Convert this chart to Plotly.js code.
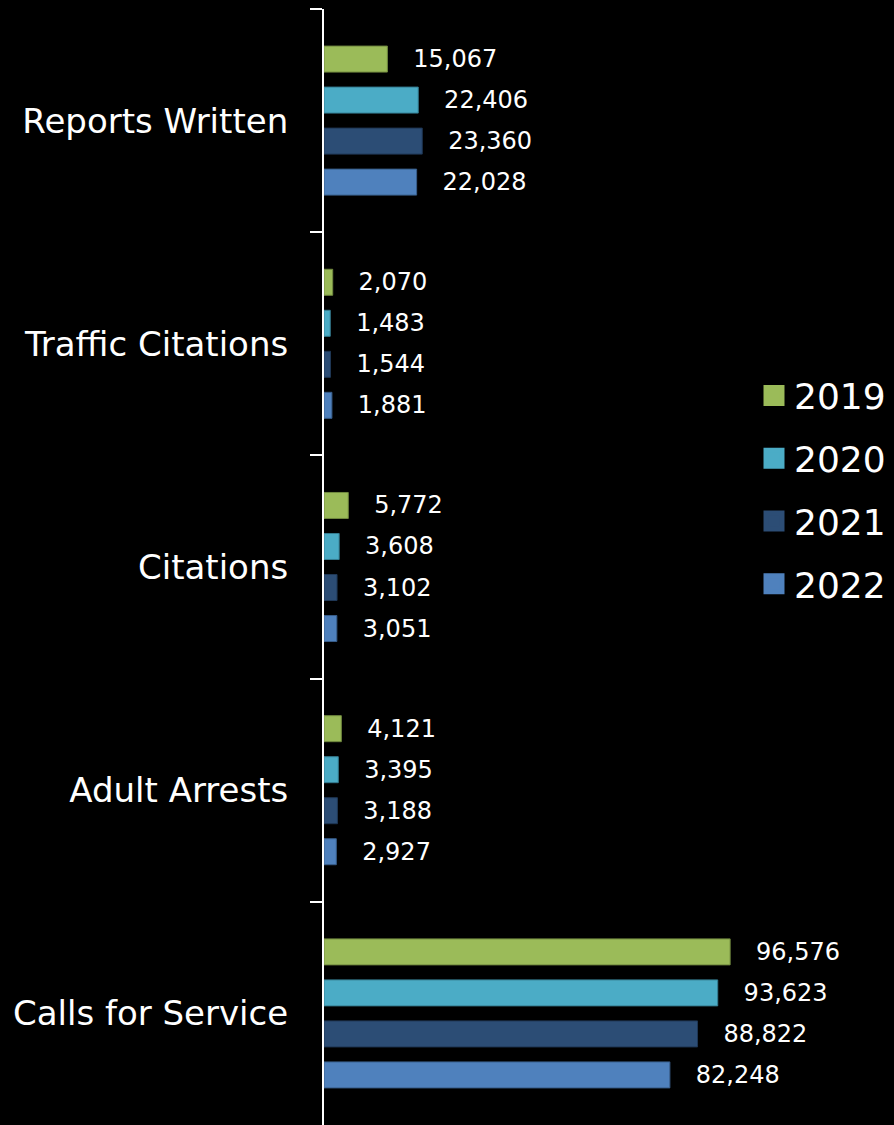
<!DOCTYPE html>
<html>
<head>
<meta charset="utf-8">
<script src="https://cdn.plot.ly/plotly-3.0.1.min.js"></script>
<style>
  html, body { margin: 0; padding: 0; background: #000; }
  #chart { width: 894px; height: 1125px; }
</style>
</head>
<body>
<div id="chart"></div>
<script>
const categories = ["Reports Written", "Traffic Citations", "Citations", "Adult Arrests", "Calls for Service"];
const seriesNames = ["2019", "2020", "2021", "2022"];
const values2019 = [15067, 2070, 5772, 4121, 96576];
const values2020 = [22406, 1483, 3608, 3395, 93623];
const values2021 = [23360, 1544, 3102, 3188, 88822];
const values2022 = [22028, 1881, 3051, 2927, 82248];
const seriesValues = [values2019, values2020, values2021, values2022];

const fillColors = ["#9BBB59", "#4BACC6", "#2C4D75", "#4F81BD"];
const lineColors = ["#71893F", "#357D91", "#1F3755", "#385D8A"];

const FONT = "DejaVu Sans, sans-serif";
const traces = [];
seriesValues.forEach((vals, i) => {
  traces.push({
    type: "bar",
    orientation: "h",
    name: seriesNames[i],
    y: categories,
    x: vals,
    marker: { color: fillColors[i], line: { color: lineColors[i], width: 1 } },
    texttemplate: "\u00a0\u00a0\u00a0%{x:,}",
    textposition: "outside",
    constraintext: "none",
    cliponaxis: false,
    textfont: { family: FONT, size: 24, color: "#ffffff" },
    showlegend: false,
    hoverinfo: "skip"
  });
});
// legend entries
seriesValues.forEach((vals, i) => {
  traces.push({
    type: "scatter",
    mode: "markers",
    name: seriesNames[i],
    legendgroup: "g" + i,
    x: [null],
    y: [null],
    marker: { symbol: "square", size: 16, color: fillColors[i], line: { color: fillColors[i], width: 5 } },
    showlegend: true,
    hoverinfo: "skip"
  });
});

const layout = {
  width: 894,
  height: 1125,
  paper_bgcolor: "#000000",
  plot_bgcolor: "#000000",
  margin: { l: 324, r: 144, t: 9, b: 0, pad: 0 },
  barmode: "group",
  bargap: 0.265,
  bargroupgap: 0.366,
  font: { family: FONT, color: "#ffffff" },
  xaxis: {
    range: [0, 101300],
    showticklabels: false,
    showgrid: false,
    zeroline: false,
    showline: false,
    ticks: ""
  },
  yaxis: {
    autorange: "reversed",
    type: "category",
    showline: true,
    linecolor: "#ffffff",
    linewidth: 2,
    ticks: "outside",
    tickson: "boundaries",
    ticklen: 12,
    tickwidth: 2,
    tickcolor: "#ffffff",
    ticklabelstandoff: 27,
    showgrid: false,
    zeroline: false,
    tickfont: { family: FONT, size: 34, color: "#ffffff" }
  },
  legend: {
    xref: "container",
    yref: "container",
    x: 754 / 894,
    y: 1 - 490 / 1125,
    xanchor: "left",
    yanchor: "middle",
    traceorder: "grouped",
    tracegroupgap: 13,
    font: { family: FONT, size: 36, color: "#ffffff" },
    bgcolor: "rgba(0,0,0,0)"
  },
  showlegend: true
};

Plotly.newPlot("chart", traces, layout, { displayModeBar: false, staticPlot: true });
</script>
</body>
</html>
